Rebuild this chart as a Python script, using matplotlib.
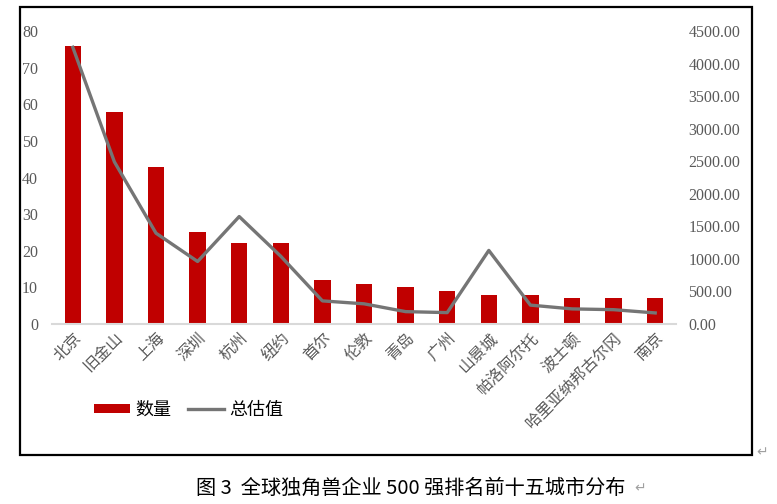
import matplotlib.pyplot as plt
from matplotlib.patches import Rectangle, Patch
from matplotlib.lines import Line2D
import matplotlib.transforms as mtransforms

plt.rcParams['font.family'] = ['Noto Sans CJK SC', 'DejaVu Sans']

# data
cities = ['北京', '旧金山', '上海', '深圳', '杭州', '纽约', '首尔', '伦敦', '青岛',
          '广州', '山景城', '帕洛阿尔托', '波士顿', '哈里亚纳邦古尔冈', '南京']
counts = [76, 58, 43, 25, 22, 22, 12, 11, 10, 9, 8, 8, 7, 7, 7]
total_value = [4250, 2490, 1395, 960, 1650, 1040, 355, 310, 190,
               175, 1130, 290, 232, 220, 170]
left_ticks = [0, 10, 20, 30, 40, 50, 60, 70, 80]
right_ticks = [0, 500, 1000, 1500, 2000, 2500, 3000, 3500, 4000, 4500]

W, H = 777, 504
fig = plt.figure(figsize=(W / 100, H / 100), dpi=100)

# outer border of the chart box
fig.patches.append(Rectangle((20 / W, 1 - 455 / H), 732 / W, 448 / H,
                             transform=fig.transFigure, fill=False,
                             edgecolor='black', linewidth=1.6))

ax = fig.add_axes([52 / W, 1 - 324 / H, 624 / W, 293 / H])
x = list(range(len(cities)))
ax.bar(x, counts, width=0.39, color='#c00000', zorder=2)
ax.set_xlim(-0.5, 14.5)
ax.set_ylim(0, 80)
ax.set_yticks(left_ticks)
ax.set_yticklabels([str(t) for t in left_ticks], family='Liberation Serif',
                   fontsize=11.5, color='#595959')
for s in ['top', 'right', 'left']:
    ax.spines[s].set_visible(False)
ax.spines['bottom'].set_color('#d9d9d9')
ax.spines['bottom'].set_linewidth(1.5)
ax.tick_params(axis='both', length=0, pad=10)

ax.set_xticks(x)
ax.set_xticklabels(cities, rotation=45, ha='right', rotation_mode='anchor',
                   fontsize=11.5, color='#595959')
offset = mtransforms.ScaledTranslation(8 / 100, 0, fig.dpi_scale_trans)
for lab in ax.get_xticklabels():
    lab.set_transform(lab.get_transform() + offset)
ax.tick_params(axis='x', pad=4)

ax2 = ax.twinx()
ax2.plot(x, total_value, color='#757575', linewidth=2.4, zorder=3)
ax2.set_ylim(0, 4500)
ax2.set_yticks(right_ticks)
ax2.set_yticklabels(['%.2f' % t for t in right_ticks], family='Liberation Serif',
                    fontsize=11.5, color='#595959')
for s in ['top', 'right', 'left', 'bottom']:
    ax2.spines[s].set_visible(False)
ax2.tick_params(axis='y', length=0, pad=9)

handles = [Patch(facecolor='#c00000', edgecolor='none'),
           Line2D([0], [0], color='#757575', linewidth=2.4)]
fig.legend(handles, ['数量', '总估值'], loc='center left',
           bbox_to_anchor=(78 / W, 1 - 410 / H), ncol=2, frameon=False,
           fontsize=13, handlelength=2.0, handleheight=0.45,
           columnspacing=0.9, handletextpad=0.3)

fig.text(756 / W, 1 - 452 / H, '↵', fontsize=10, color='#a0a0a0',
         family=['DejaVu Sans'], va='center')
fig.text(411 / W, 1 - 488 / H, '图 3  全球独角兽企业 500 强排名前十五城市分布',
         ha='center', va='center', fontsize=14.5, color='black')
fig.text(634 / W, 1 - 488 / H, '↵', fontsize=10, color='#a0a0a0',
         family=['DejaVu Sans'], va='center')

fig.savefig('out.png', dpi=100)
